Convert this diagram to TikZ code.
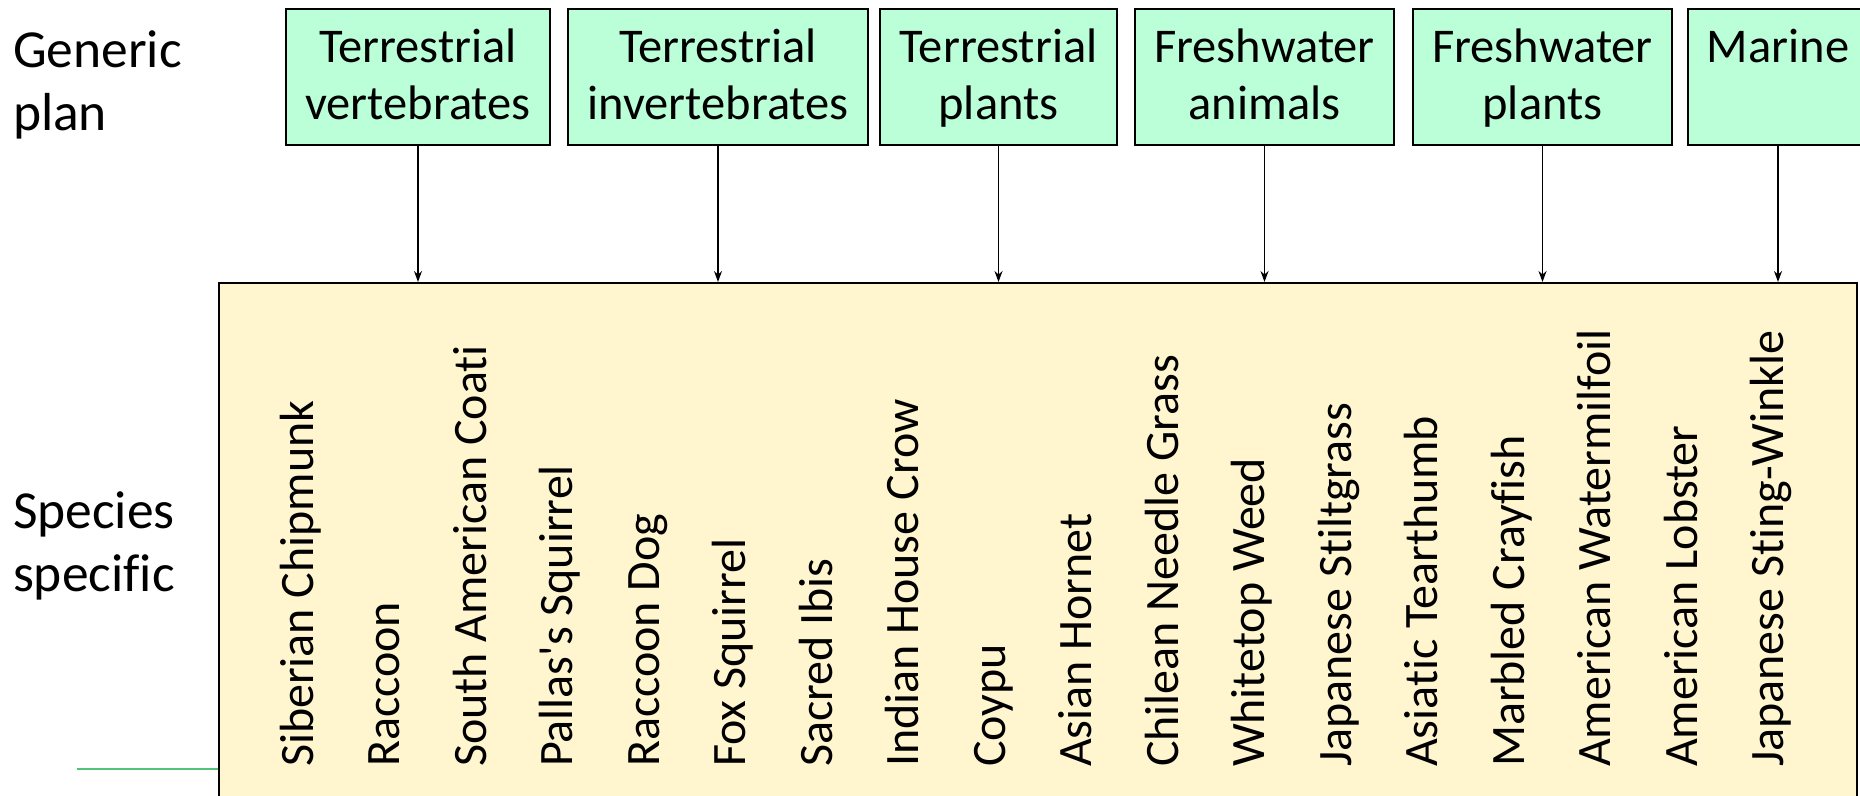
\documentclass[tikz,border=0pt]{standalone}
\usepackage{fontspec}
\setmainfont{Carlito}[Ligatures={TeXOff,NoCommon}]
\usetikzlibrary{arrows.meta}
\definecolor{mint}{RGB}{187,255,217}
\definecolor{cream}{RGB}{255,246,207}
\definecolor{leaf}{RGB}{82,196,122}

\begin{document}
\begin{tikzpicture}[x=1pt, y=1pt, line width=2pt, >={Stealth[length=11pt,width=8pt]},
  group/.style = {draw, fill=mint, minimum height=136pt, inner sep=0pt, align=center, font=\fontsize{48.5}{57}\selectfont, text height=86pt, text depth=0pt},
  kind/.style = {rotate=90, anchor=west, inner sep=0pt, font=\fontsize{48}{58}\selectfont, text height=31pt, text depth=0pt},
  side/.style = {anchor=south west, inner sep=0pt, align=left, font=\fontsize{53.5}{63.5}\selectfont, text depth=0pt}]
  \useasboundingbox (0,0) rectangle (1860,795);
  \node[side] (gen) at (12,663) {Generic\\plan};
  \node[side] (spc) at (12,202) {Species\\specific};
  \node[draw, fill=cream, anchor=north west, minimum width=1638pt, minimum height=540pt, inner sep=0pt] (spec) at (218,513) {};
  \node[group, minimum width=264pt] (tv) at (418,718) {Terrestrial\\vertebrates};
  \node[group, minimum width=300pt] (ti) at (718,718) {Terrestrial\\invertebrates};
  \node[group, minimum width=237pt] (tp) at (998.5,718) {Terrestrial\\plants};
  \node[group, minimum width=259pt] (fa) at (1264.5,718) {Freshwater\\animals};
  \node[group, minimum width=259pt] (fp) at (1542.5,718) {Freshwater\\plants};
  \node[group, minimum width=180pt] (ma) at (1778,718) {Marine\\\mbox{}};
  \coordinate (lf) at (77,26);
  \draw[leaf] (lf) -- (lf -| spec.west);
  \foreach \grp in {tv, ti, tp, fa, fp, ma}
    \draw[->, line width=1.6pt] (\grp) -- (\grp |- spec.north);
  \foreach \name [count=\i from 0] in {Siberian Chipmunk, Raccoon, South American Coati, Pallas's Squirrel, Raccoon Dog, Fox Squirrel, Sacred Ibis, Indian House Crow, Coypu, Asian Hornet, Chilean Needle Grass, Whitetop Weed, Japanese Stiltgrass, Asiatic Tearthumb, Marbled Crayfish, American Watermilfoil, American Lobster, Japanese Sting-Winkle}
    \node[kind] (s\i) at (297.5+86.5*\i,27) {\name};
\end{tikzpicture}
\end{document}
